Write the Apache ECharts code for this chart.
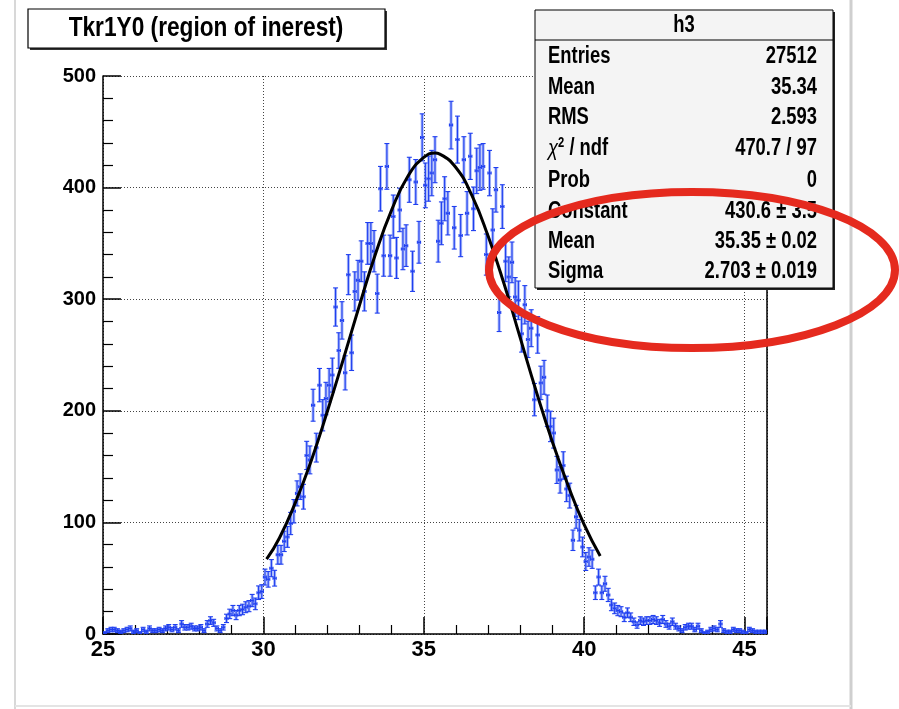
<!DOCTYPE html>
<html><head><meta charset="utf-8">
<script src="https://cdn.jsdelivr.net/npm/echarts@6/dist/echarts.min.js"></script>
<style>html,body{margin:0;padding:0;background:#fff}#c{width:899px;height:709px}</style>
</head><body><div id="c"></div>
<script>
// ---- data ----
const binStart = 25.0;
const binWidth = 0.1;
const counts = [
  1,3,4,4,3,2,3,4,5,2,
  3,1,4,2,5,3,3,4,3,5,
  6,4,6,3,9,6,6,7,5,5,
  6,3,9,12,10,5,3,6,14,18,
  21,17,21,22,24,25,30,27,37,38,
  51,49,59,50,71,71,83,87,99,110,
  126,132,123,160,156,205,167,223,196,211,
  223,232,293,254,281,234,322,252,307,317,
  334,307,350,350,343,305,399,339,419,339,
  374,337,380,345,348,407,325,405,351,445,
  402,408,413,425,352,368,390,377,456,364,
  443,357,425,377,428,381,415,418,419,340,
  413,362,398,288,383,334,320,333,302,299,
  269,295,264,274,210,268,225,230,200,186,
  180,147,138,151,130,124,84,105,93,78,
  65,69,67,37,51,37,45,35,26,23,
  21,20,15,19,15,11,8,12,11,12,
  12,13,12,10,13,9,7,11,7,5,
  3,6,7,7,4,7,3,1,2,4,
  5,4,9,3,2,2,4,3,3,2,
  1,4,3,2,2,2,2
];
const fitX = [30.1,30.5,31.0,31.5,32.0,32.5,33.0,33.5,34.0,34.5,35.0,35.35,35.5,36.0,36.5,37.0,37.5,38.0,38.5,39.0,39.5,40.0,40.5];
const fitY = [67,86,118,156,200,247,295,341,380,410,427,431,430,418,393,357,314,266,218,173,133,98,70];
const titleText = 'Tkr1Y0 (region of inerest)';
const statsTitle = 'h3';
const statsLabels = ['Entries','Mean','RMS','{c|χ}{s|2}{n| / ndf}','Prob','Constant','Mean','Sigma'];
const statsValues = ['27512','35.34','2.593','470.7 / 97','0','430.6 ± 3.5','35.35 ± 0.02','2.703 ± 0.019'];

const FONT = "'Liberation Sans',Arial,sans-serif";
const SX = 0.8; // condensed look of the ROOT Helvetica text

const histData = counts.map((v, i) => [binStart + binWidth * (i + 0.5), v, Math.sqrt(v)]);
const fitData = fitX.map((x, i) => [x, fitY[i]]);

const chart = echarts.init(document.getElementById('c'), null, {renderer: 'canvas'});

const statsTop = 10, statsLeft = 535, statsW = 298, statsH = 278;
const rowY = [57, 88, 118, 149, 181, 212, 242, 272];
const graphics = [];
// canvas frame lines
graphics.push({type:'line', z:1, shape:{x1:15,y1:0,x2:15,y2:709}, style:{stroke:'#d8d8d8', lineWidth:2}});
graphics.push({type:'line', z:1, shape:{x1:851,y1:0,x2:851,y2:709}, style:{stroke:'#cfcfcf', lineWidth:3}});
graphics.push({type:'line', z:1, shape:{x1:15,y1:706,x2:851,y2:706}, style:{stroke:'#e4e4e4', lineWidth:2}});
// title box
graphics.push({type:'rect', z:100, shape:{x:30, y:11, width:357, height:39}, style:{fill:'#333'}});
graphics.push({type:'rect', z:101, shape:{x:28, y:9, width:357, height:39}, style:{fill:'#fff', stroke:'#000', lineWidth:1.2}});
graphics.push({type:'text', z:102, x:206, y:29, scaleX:0.84, style:{text:titleText, font:'bold 27px ' + FONT, fill:'#000', textAlign:'center', textVerticalAlign:'middle'}});
// stats box
graphics.push({type:'rect', z:100, shape:{x:statsLeft+2, y:statsTop+2, width:statsW, height:statsH}, style:{fill:'#222'}});
graphics.push({type:'rect', z:101, shape:{x:statsLeft, y:statsTop, width:statsW, height:statsH}, style:{fill:'#f4f4f4', stroke:'#000', lineWidth:1}});
graphics.push({type:'line', z:102, shape:{x1:statsLeft, y1:40, x2:statsLeft+statsW, y2:40}, style:{stroke:'#000', lineWidth:1}});
graphics.push({type:'text', z:102, x:statsLeft+statsW/2, y:26, scaleX:SX, style:{text:statsTitle, font:'bold 23px ' + FONT, fill:'#000', textAlign:'center', textVerticalAlign:'middle'}});
statsLabels.forEach((t, i) => {
  graphics.push({type:'text', z:102, x:548, y:rowY[i], scaleX:SX, style:{text:t, font:'bold 23px ' + FONT, fill:'#000', textAlign:'left', textVerticalAlign:'middle',
    rich:{c:{font:'italic 23px ' + FONT, fill:'#000'}, s:{font:'bold 14px ' + FONT, fill:'#000', padding:[0,0,12,0]}, n:{font:'bold 23px ' + FONT, fill:'#000'}}}});
  graphics.push({type:'text', z:102, x:817, y:rowY[i], scaleX:SX, style:{text:statsValues[i], font:'bold 23px ' + FONT, fill:'#000', textAlign:'right', textVerticalAlign:'middle'}});
});
// red ellipse annotation
graphics.push({type:'ellipse', z:120, shape:{cx:692, cy:270, rx:203, ry:78}, style:{fill:'none', stroke:'#e52a1e', lineWidth:8}});

chart.setOption({
  animation: false,
  backgroundColor: '#fff',
  grid: {left:103, right:132, top:76, bottom:75, show:false},
  xAxis: {
    type:'value', min:25, max:45.7, interval:5,
    axisLine:{show:true, lineStyle:{color:'#000', width:1.5}},
    axisTick:{show:true, inside:true, length:17, lineStyle:{color:'#000', width:1.5}},
    minorTick:{show:true, splitNumber:5, length:9, lineStyle:{color:'#000', width:1.2}},
    axisLabel:{show:true, margin:5, showMaxLabel:false, color:'#000', fontSize:22, fontWeight:'bold', fontFamily:FONT},
    splitLine:{show:true, lineStyle:{color:'#444', type:[1,2], width:1}}
  },
  yAxis: [{
    type:'value', min:0, max:500, interval:100,
    axisLine:{show:true, lineStyle:{color:'#000', width:1.5}},
    axisTick:{show:true, inside:true, length:18, lineStyle:{color:'#000', width:1.5}},
    minorTick:{show:true, splitNumber:5, length:10, lineStyle:{color:'#000', width:1.2}},
    axisLabel:{show:true, margin:7, color:'#000', fontSize:20, fontWeight:'bold', fontFamily:FONT},
    splitLine:{show:true, lineStyle:{color:'#444', type:[1,2], width:1}}
  },{
    type:'value', min:0, max:500, interval:100, position:'right',
    axisLine:{show:true, lineStyle:{color:'#000', width:1.5}},
    axisTick:{show:false}, axisLabel:{show:false}, splitLine:{show:false}
  }],
  series: [{
    type:'custom',
    data: histData,
    clip: true,
    z: 3,
    renderItem: function (params, api) {
      const x = api.value(0), y = api.value(1), e = api.value(2);
      const c = api.coord([x, y]);
      const t = api.coord([x, y + e]);
      const b = api.coord([x, Math.max(y - e, 0)]);
      const hw = api.size([binWidth, 0])[0] / 2;
      const st = {stroke:'#1f3ff0', lineWidth:1.1};
      const un = {stroke:'rgba(110,135,245,0.6)', lineWidth:3};
      const cap = 2.5;
      return {type:'group', children:[
        {type:'line', shape:{x1:c[0], y1:t[1], x2:c[0], y2:b[1]}, style:un},
        {type:'line', shape:{x1:c[0], y1:t[1], x2:c[0], y2:b[1]}, style:st},
        {type:'line', shape:{x1:c[0]-cap, y1:t[1], x2:c[0]+cap, y2:t[1]}, style:st},
        {type:'line', shape:{x1:c[0]-cap, y1:b[1], x2:c[0]+cap, y2:b[1]}, style:st},
        {type:'line', shape:{x1:c[0]-hw, y1:c[1], x2:c[0]+hw, y2:c[1]}, style:st},
        {type:'line', shape:{x1:c[0]-hw, y1:c[1]-1.5, x2:c[0]-hw, y2:c[1]+1.5}, style:st},
        {type:'line', shape:{x1:c[0]+hw, y1:c[1]-1.5, x2:c[0]+hw, y2:c[1]+1.5}, style:st}
      ]};
    }
  },{
    type:'line',
    data: fitData,
    smooth: true,
    showSymbol: false,
    z: 5,
    lineStyle:{color:'#000', width:3}
  }],
  graphic: graphics
});
</script>
</body></html>
